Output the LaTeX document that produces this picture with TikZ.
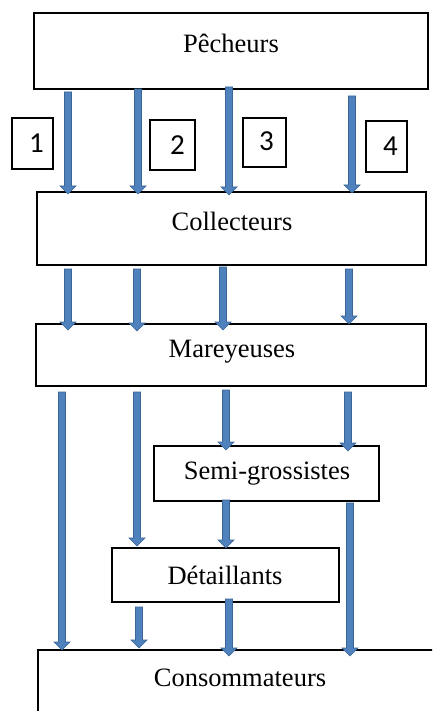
\documentclass[tikz,border=0pt]{standalone}
\usepackage{fontspec}
\setmainfont{Liberation Serif}
\newfontfamily\numfont{Carlito}
\definecolor{arrfill}{HTML}{4F81BD}
\definecolor{arredge}{HTML}{3A6594}
\newcommand\barrow[3]{%
  \filldraw[arrsty] (#1-3.5,#2) -- (#1+3.5,#2) -- (#1+3.5,#3-8) -- (#1+8,#3-8) -- (#1,#3) -- (#1-8,#3-8) -- (#1-3.5,#3-8) -- cycle;}
\begin{document}
\begin{tikzpicture}[x=1pt,y=-1pt,
  box/.style={draw,line width=1.4pt,inner sep=0pt},
  lbl/.style={font=\fontsize{26.5}{29}\selectfont,inner sep=0pt},
  numbox/.style={draw,line width=1.4pt,inner sep=0pt,font=\numfont\fontsize{29}{31}\selectfont},
  arrsty/.style={fill=arrfill,draw=arredge,line width=0.6pt,line join=miter}]
\useasboundingbox (0,0) rectangle (432,711);
\clip (0,0) rectangle (432,711);
\fill[white] (0,0) rectangle (432,711);
% boxes
\node[box,minimum width=394,minimum height=76] (pech) at (231,51) {};
\node[lbl] (tpech) at (231,43) {Pêcheurs};
\node[box,minimum width=389,minimum height=73] (coll) at (231.5,228.5) {};
\node[lbl] (tcoll) at (232,221) {Collecteurs};
\node[box,minimum width=390,minimum height=62] (mare) at (231,355) {};
\node[lbl] (tmare) at (232,352) {Mareyeuses};
\node[box,minimum width=225,minimum height=55] (semi) at (266.5,473.5) {};
\node[lbl] (tsemi) at (267,474) {Semi-grossistes};
\node[box,minimum width=227,minimum height=54] (deta) at (225.5,575) {};
\node[lbl] (tdeta) at (225,575) {Détaillants};
\draw[line width=1.4pt] (38,720) -- (38,650) -- (440,650);
\node[lbl] (tcons) at (240,678) {Consommateurs};
% number boxes
\node[numbox,minimum width=41,minimum height=51] (n1) at (32.5,143.5) {\raisebox{-2pt}{\hspace{8pt}1}};
\node[numbox,minimum width=45,minimum height=50] (n2) at (172.5,145) {\raisebox{-3pt}{\hspace{10pt}2}};
\node[numbox,minimum width=43,minimum height=49] (n3) at (264.5,142.5) {\raisebox{2pt}{\hspace{4pt}3}};
\node[numbox,minimum width=41,minimum height=51] (n4) at (386.5,146.5) {\raisebox{-2pt}{\hspace{8pt}4}};
% arrows Pecheurs -> Collecteurs
\barrow{68}{92}{194}
\barrow{138}{89}{194}
\barrow{229}{87}{195}
\barrow{352}{96}{193}
% Collecteurs -> Mareyeuses
\barrow{68}{269}{330}
\barrow{137}{269}{331}
\barrow{223}{267}{330}
\barrow{349}{269}{324}
% from Mareyeuses
\barrow{62}{392}{650}
\barrow{137}{392}{546}
\barrow{226}{390}{450}
\barrow{348}{392}{451}
% from Semi-grossistes
\barrow{226}{500}{548}
\barrow{350}{503}{656}
% from Detaillants
\barrow{139}{607}{648}
\barrow{229}{599}{656}
\end{tikzpicture}
\end{document}
